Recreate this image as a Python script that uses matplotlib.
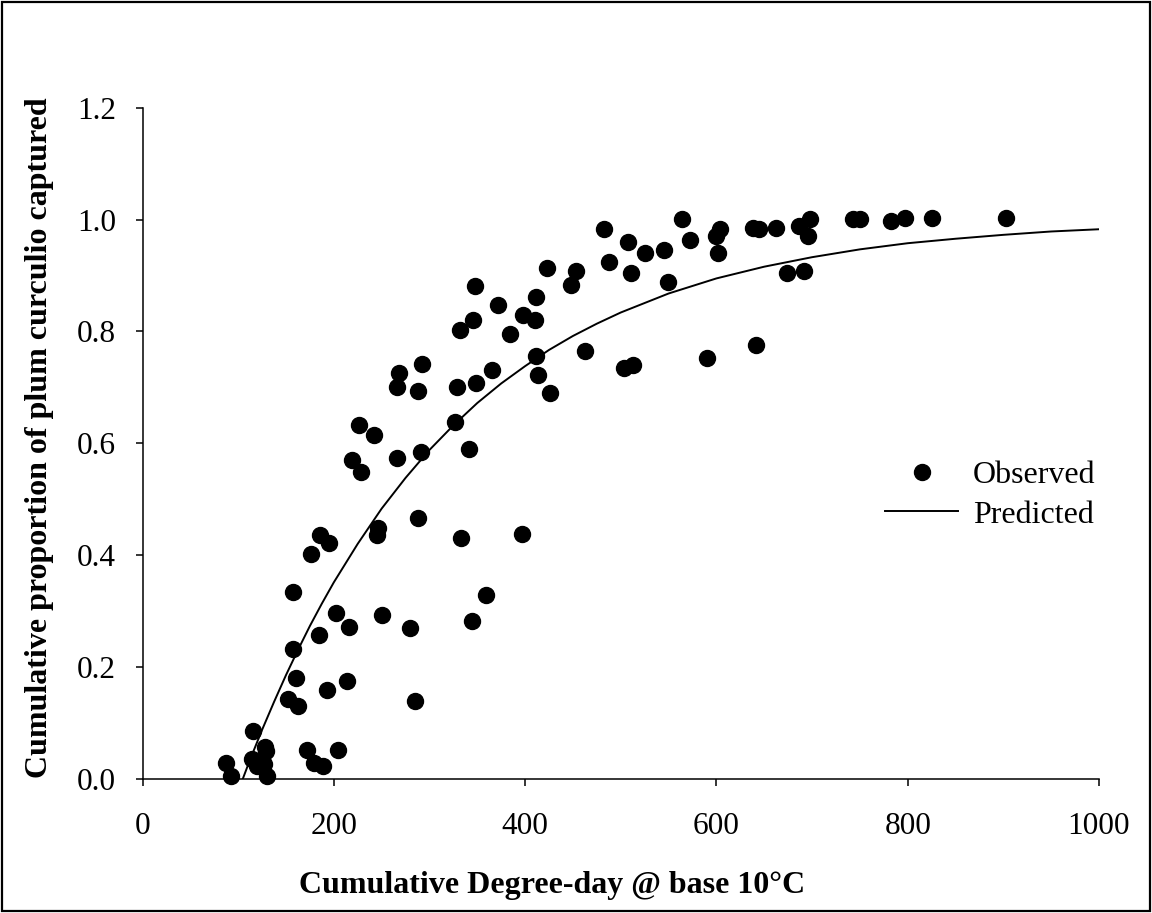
import matplotlib
matplotlib.use("Agg")
import matplotlib.pyplot as plt
from matplotlib.patches import Rectangle

plt.rcParams['font.family'] = ['Liberation Serif', 'DejaVu Serif']

# observed points (degree-days, cumulative proportion)
obs_x = [87.3, 92.2, 115.2, 128.0, 129.0, 114.1, 119.3, 127.0, 129.8,
         157.6, 157.0, 160.1, 152.4, 162.2, 176.1, 185.5, 195.2, 201.9,
         184.4, 216.1, 192.5, 214.0, 172.2, 179.2, 188.9, 204.6, 246.4,
         244.7, 249.9,
         331.8, 292.4, 268.3, 265.6, 287.6, 328.3, 326.5, 226.5, 241.9,
         219.2, 228.6, 265.6, 290.7, 287.9, 333.0,
         422.4, 347.8, 371.8, 411.2, 345.7, 397.9, 410.1, 384.7, 411.2,
         413.0, 425.8, 364.9, 348.5, 341.5,
         482.6, 564.5, 508.1, 525.1, 545.7, 572.1, 488.2, 510.8, 549.8,
         603.4, 600.0, 602.1, 638.2, 644.2, 662.0, 686.3, 697.5, 695.7,
         673.8, 691.5, 453.7, 448.5, 462.4, 503.1, 512.9, 590.2, 641.8,
         396.9, 358.9, 345.0, 279.2, 285.1,
         742.4, 749.7, 782.1, 796.7, 825.3, 902.3]
obs_y = [0.027, 0.005, 0.085, 0.057, 0.049, 0.035, 0.022, 0.026, 0.004,
         0.334, 0.231, 0.179, 0.143, 0.130, 0.401, 0.435, 0.421, 0.297,
         0.256, 0.272, 0.159, 0.175, 0.051, 0.028, 0.023, 0.051, 0.448,
         0.436, 0.293,
         0.803, 0.741, 0.725, 0.700, 0.694, 0.701, 0.638, 0.632, 0.614,
         0.570, 0.548, 0.573, 0.585, 0.466, 0.431,
         0.914, 0.882, 0.847, 0.861, 0.820, 0.830, 0.821, 0.796, 0.757,
         0.722, 0.690, 0.731, 0.707, 0.590,
         0.983, 1.002, 0.961, 0.940, 0.946, 0.964, 0.925, 0.904, 0.888,
         0.983, 0.971, 0.940, 0.985, 0.983, 0.986, 0.989, 1.002, 0.971,
         0.904, 0.908, 0.908, 0.883, 0.765, 0.734, 0.740, 0.753, 0.776,
         0.437, 0.329, 0.281, 0.270, 0.138,
         1.002, 1.002, 0.998, 1.004, 1.003, 1.003]

# predicted curve
pred_x = [105, 112.5, 125, 137.5, 150, 162.5, 175, 187.5, 200, 225, 250,
          275, 300, 325, 350, 375, 400, 425, 450, 475, 500, 550, 600, 650,
          700, 750, 800, 850, 900, 950, 1000]
pred_y = [0.0, 0.034, 0.087, 0.137, 0.185, 0.230, 0.273, 0.313, 0.351,
          0.420, 0.483, 0.538, 0.588, 0.632, 0.672, 0.707, 0.738, 0.767,
          0.792, 0.814, 0.834, 0.868, 0.895, 0.916, 0.933, 0.947, 0.958,
          0.966, 0.973, 0.979, 0.983]

xticks = [0, 200, 400, 600, 800, 1000]
yticks = [0.0, 0.2, 0.4, 0.6, 0.8, 1.0, 1.2]

fig = plt.figure(figsize=(11.52, 9.13), dpi=100)
ax = fig.add_axes([142.5 / 1152, 1 - 778.5 / 913, (1099 - 142.5) / 1152, (778.5 - 108) / 913])

ax.plot(pred_x, pred_y, color='black', lw=1.4, label='Predicted', zorder=2)
ax.plot(obs_x, obs_y, 'o', color='black', ms=11.5, label='Observed',
        clip_on=False, zorder=3)

ax.set_xlim(0, 1000)
ax.set_ylim(0, 1.2)
ax.set_xticks(xticks)
ax.set_yticks(yticks)
ax.set_yticklabels(['%.1f' % v for v in yticks])
ax.spines['top'].set_visible(False)
ax.spines['right'].set_visible(False)
for s in ['left', 'bottom']:
    ax.spines[s].set_linewidth(1.1)
ax.tick_params(axis='both', direction='out', length=5, width=1.1, labelsize=22.5)
ax.tick_params(axis='x', pad=19)
ax.tick_params(axis='y', pad=14)

fig.text(552 / 1152, 1 - 885 / 913, 'Cumulative Degree-day @ base 10°C',
         ha='center', va='center', fontsize=23, fontweight='bold')
fig.text(40 / 1152, 1 - 438 / 913, 'Cumulative proportion of plum curculio captured',
         ha='center', va='center', rotation=90, fontsize=23, fontweight='bold')

h, l = ax.get_legend_handles_labels()
fig.legend([h[1], h[0]], [l[1], l[0]], loc='center left',
           bbox_to_anchor=(885 / 1152, 1 - 495 / 913), frameon=False,
           fontsize=23, handlelength=2.3, handletextpad=0.45, labelspacing=0.33,
           borderpad=0, borderaxespad=0)

fig.patches.append(Rectangle((0.002, 0.002), 0.996, 0.996, transform=fig.transFigure,
                             fill=False, edgecolor='black', lw=1.6))

fig.savefig('out.png', dpi=100)
